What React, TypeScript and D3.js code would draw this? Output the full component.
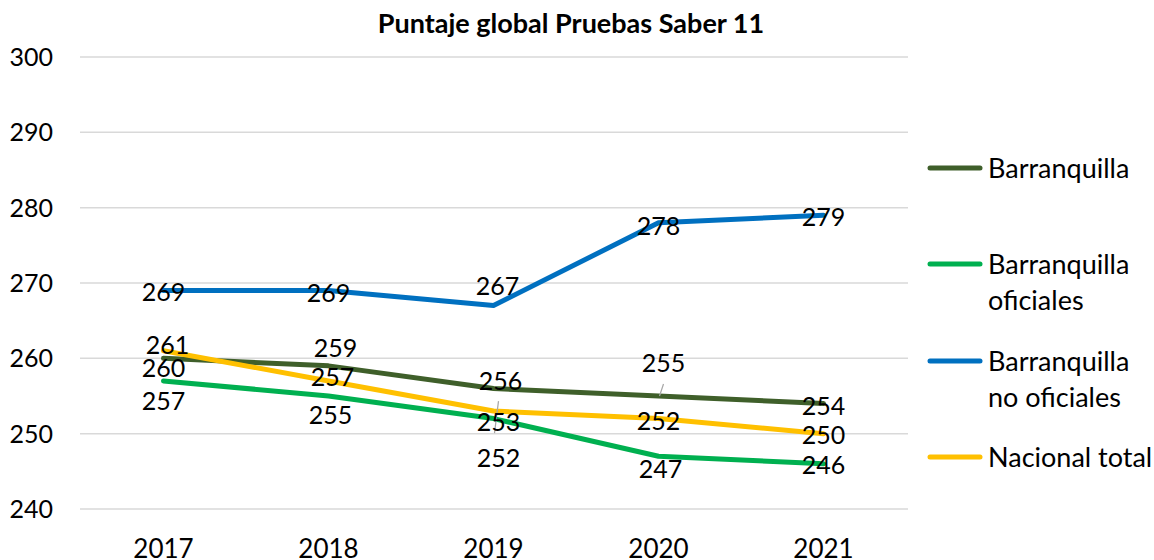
import React, { useEffect, useRef } from 'react';
import * as d3 from 'd3';

const years = ['2017', '2018', '2019', '2020', '2021'];
const barranquilla = [260, 259, 256, 255, 254];
const oficiales = [257, 255, 252, 247, 246];
const noOficiales = [269, 269, 267, 278, 279];
const nacional = [261, 257, 253, 252, 250];
const yTicks = [240, 250, 260, 270, 280, 290, 300];

const seriesNames = [['Barranquilla'], ['Barranquilla', 'oficiales'], ['Barranquilla', 'no oficiales'], ['Nacional total']];
const seriesColors = ['#3F5F2A', '#00B050', '#0070C0', '#FFC000'];

// label nudges (dx, dy) so the numbers don't pile up, like in the original
const labelNudge = [
  [[0, 10], [7, -18], [7, -7], [5, -33], [0, 2]],
  [[0, 20], [2, 19], [5, 39], [2, 13], [0, 1]],
  [[0, 1], [0, 2], [4, -20], [0, 3], [0, 2]],
  [[4, -6], [4, -4], [5, 11], [0, 2], [0, 1]],
];

function App() {
  return (
    <div>
      <SaberChart />
    </div>
  );
}

function SaberChart() {
  const ref = useRef<HTMLDivElement>(null);

  useEffect(() => {
    if (!ref.current) return;
    const width = 1154;
    const height = 560;
    const margin = { top: 57, left: 80, right: 246, bottom: 51 };
    const font = 'Lato, "Open Sans", sans-serif';

    d3.select(ref.current).select('svg').remove();
    const svg = d3.select(ref.current)
      .append('svg')
      .attr('width', width)
      .attr('height', height)
      .style('position', 'absolute')
      .style('left', 0)
      .style('top', 0)
      .style('background', '#fff');

    const x = d3.scaleBand<string>()
      .domain(years)
      .range([81, 906]);
    const y = d3.scaleLinear()
      .domain([240, 300])
      .range([height - margin.bottom, margin.top]);

    // title
    svg.append('text')
      .attr('x', 571)
      .attr('y', 33)
      .attr('text-anchor', 'middle')
      .style('font-family', font)
      .style('font-weight', 700)
      .style('font-size', '27px')
      .text('Puntaje global Pruebas Saber 11');

    // gridlines + y labels
    yTicks.forEach(t => {
      svg.append('line')
        .attr('x1', margin.left)
        .attr('x2', 908)
        .attr('y1', y(t))
        .attr('y2', y(t))
        .style('stroke', '#d9d9d9')
        .style('stroke-width', 1.5);
      svg.append('text')
        .attr('x', 53)
        .attr('y', y(t))
        .attr('dy', '0.36em')
        .attr('text-anchor', 'end')
        .style('font-family', font)
        .style('font-size', '25px')
        .text(t);
    });

    // x labels
    years.forEach(yr => {
      svg.append('text')
        .attr('x', x(yr)! + x.bandwidth() / 2)
        .attr('y', 558)
        .attr('text-anchor', 'middle')
        .style('font-family', font)
        .style('font-size', '26px')
        .text(yr);
    });

    const allSeries = [barranquilla, oficiales, noOficiales, nacional];
    const cx = (i: number) => x(years[i])! + x.bandwidth() / 2;

    const line = d3.line<number>()
      .x((_, i) => cx(i))
      .y(d => y(d));

    allSeries.forEach((s, k) => {
      svg.append('path')
        .datum(s)
        .attr('d', line)
        .style('fill', 'none')
        .style('stroke', seriesColors[k])
        .style('stroke-width', 5)
        .style('stroke-linejoin', 'round')
        .style('stroke-linecap', 'round');
    });

    // leader lines for the two labels moved away from their points
    const leaders = [[0, 3], [3, 2]];
    leaders.forEach(([k, i]) => {
      const lx = cx(i) + labelNudge[k][i][0];
      const ly = y(allSeries[k][i]) + labelNudge[k][i][1];
      const dir = labelNudge[k][i][1] < 0 ? 1 : -1;
      svg.append('line')
        .attr('x1', lx)
        .attr('y1', ly + dir * 21)
        .attr('x2', cx(i) + 1)
        .attr('y2', y(allSeries[k][i]) + (k === 0 ? 0 : 22))
        .style('stroke', '#a6a6a6')
        .style('stroke-width', 1.2);
    });

    // data labels
    allSeries.forEach((s, k) => {
      s.forEach((v, i) => {
        svg.append('text')
          .attr('x', cx(i) + labelNudge[k][i][0])
          .attr('y', y(v) + labelNudge[k][i][1])
          .attr('dy', '0.36em')
          .attr('text-anchor', 'middle')
          .style('font-family', font)
          .style('font-size', '25px')
          .style('fill', '#000')
          .text(v);
      });
    });

    // legend
    const legendY = [168, 264, 361, 457];
    seriesNames.forEach((lines, k) => {
      svg.append('line')
        .attr('x1', 930)
        .attr('x2', 980)
        .attr('y1', legendY[k])
        .attr('y2', legendY[k])
        .style('stroke', seriesColors[k])
        .style('stroke-width', 5)
        .style('stroke-linecap', 'round');
      lines.forEach((t, j) => {
        svg.append('text')
          .attr('x', 988)
          .attr('y', legendY[k] + j * 36)
          .attr('dy', '0.36em')
          .style('font-family', font)
          .style('font-size', '27px')
          .text(t);
      });
    });
  }, []);

  return <div ref={ref} />;
}

export default App;
